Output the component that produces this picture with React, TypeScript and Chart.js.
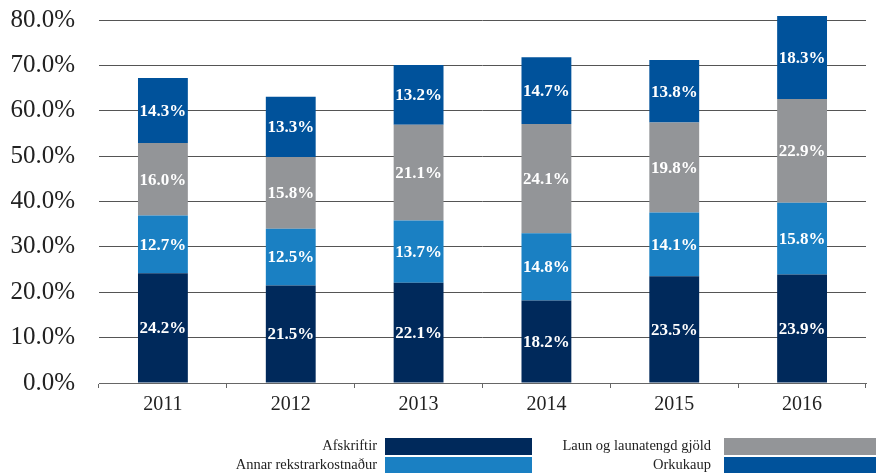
import React, { useEffect, useRef } from "react";
import { Chart, registerables } from "chart.js";

Chart.register(...registerables);

const years = ["2011", "2012", "2013", "2014", "2015", "2016"];
const afskriftir = [24.2, 21.5, 22.1, 18.2, 23.5, 23.9];
const annar = [12.7, 12.5, 13.7, 14.8, 14.1, 15.8];
const laun = [16.0, 15.8, 21.1, 24.1, 19.8, 22.9];
const orkukaup = [14.3, 13.3, 13.2, 14.7, 13.8, 18.3];

const seriesNames = ["Afskriftir", "Annar rekstrarkostnaður", "Laun og launatengd gjöld", "Orkukaup"];
const seriesColors = ["#00295b", "#1a80c3", "#939598", "#00529b"];

const FONT = "'Liberation Serif', 'DejaVu Serif', serif";

const labelPlugin = {
  id: "segLabels",
  afterDatasetsDraw(chart: any) {
    const ctx = chart.ctx;
    ctx.save();
    ctx.fillStyle = "#ffffff";
    ctx.font = `bold 17px ${FONT}`;
    ctx.textAlign = "center";
    ctx.textBaseline = "middle";
    chart.data.datasets.forEach((ds: any, i: number) => {
      const meta = chart.getDatasetMeta(i);
      meta.data.forEach((el: any, j: number) => {
        const v = ds.data[j];
        const y = (el.y + el.base) / 2;
        ctx.fillText(v.toFixed(1) + "%", el.x, y + 1);
      });
    });
    ctx.restore();
  },
};

const legendPlugin = {
  id: "customLegend",
  afterDraw(chart: any) {
    const ctx = chart.ctx;
    ctx.save();
    ctx.font = `14.5px ${FONT}`;
    ctx.textAlign = "right";
    ctx.textBaseline = "middle";
    const items = [
      { i: 0, tx: 377, bx: 385, bw: 147, y: 438, h: 17 },
      { i: 1, tx: 377, bx: 385, bw: 147, y: 457, h: 16 },
      { i: 2, tx: 711, bx: 724, bw: 152, y: 438, h: 17 },
      { i: 3, tx: 711, bx: 724, bw: 152, y: 457, h: 16 },
    ];
    items.forEach((it) => {
      ctx.fillStyle = seriesColors[it.i];
      ctx.fillRect(it.bx, it.y, it.bw, it.h);
      ctx.fillStyle = "#222";
      ctx.fillText(seriesNames[it.i], it.tx, it.y + it.h / 2);
    });
    ctx.restore();
  },
};

export default function App() {
  const ref = useRef<HTMLCanvasElement>(null);
  useEffect(() => {
    if (!ref.current) return;
    const dataSets = [afskriftir, annar, laun, orkukaup];
    const chart = new Chart(ref.current, {
      type: "bar",
      data: {
        labels: years,
        datasets: dataSets.map((d, i) => ({
          label: seriesNames[i],
          data: d,
          backgroundColor: seriesColors[i],
          borderWidth: 0,
          barPercentage: 0.39,
          categoryPercentage: 1,
          clip: false as any,
        })),
      },
      options: {
        animation: false,
        responsive: true,
        maintainAspectRatio: false,
        layout: { padding: { top: 20, right: 15, left: 0, bottom: 0 } },
        plugins: {
          legend: { display: false },
          tooltip: { enabled: false },
        },
        scales: {
          x: {
            stacked: true,
            afterFit: (s: any) => {
              s.height = 93;
              s.paddingLeft = 0;
              s.paddingRight = 0;
            },
            grid: {
              display: true,
              drawOnChartArea: false,
              drawTicks: true,
              tickLength: 5,
              color: "#666",
              offset: true,
            },
            border: { display: true, color: "#666", width: 1 },
            ticks: {
              color: "#222",
              font: { family: FONT, size: 20 },
              padding: 5,
            },
          },
          y: {
            stacked: true,
            min: 0,
            max: 80,
            afterFit: (s: any) => {
              s.width = 99;
              s.paddingTop = 0;
              s.paddingBottom = 0;
            },
            grid: {
              color: "#555",
              lineWidth: 1,
              drawTicks: false,
            },
            border: { display: false },
            ticks: {
              stepSize: 10,
              color: "#222",
              padding: 24,
              font: { family: FONT, size: 25 },
              callback: (v: any) => Number(v).toFixed(1) + "%",
            },
          },
        },
      },
      plugins: [labelPlugin, legendPlugin],
    });
    return () => chart.destroy();
  }, []);
  return (
    <div style={{ position: "fixed", left: 0, top: 0, width: 881, height: 476, background: "#fff" }}>
      <canvas ref={ref} />
    </div>
  );
}
